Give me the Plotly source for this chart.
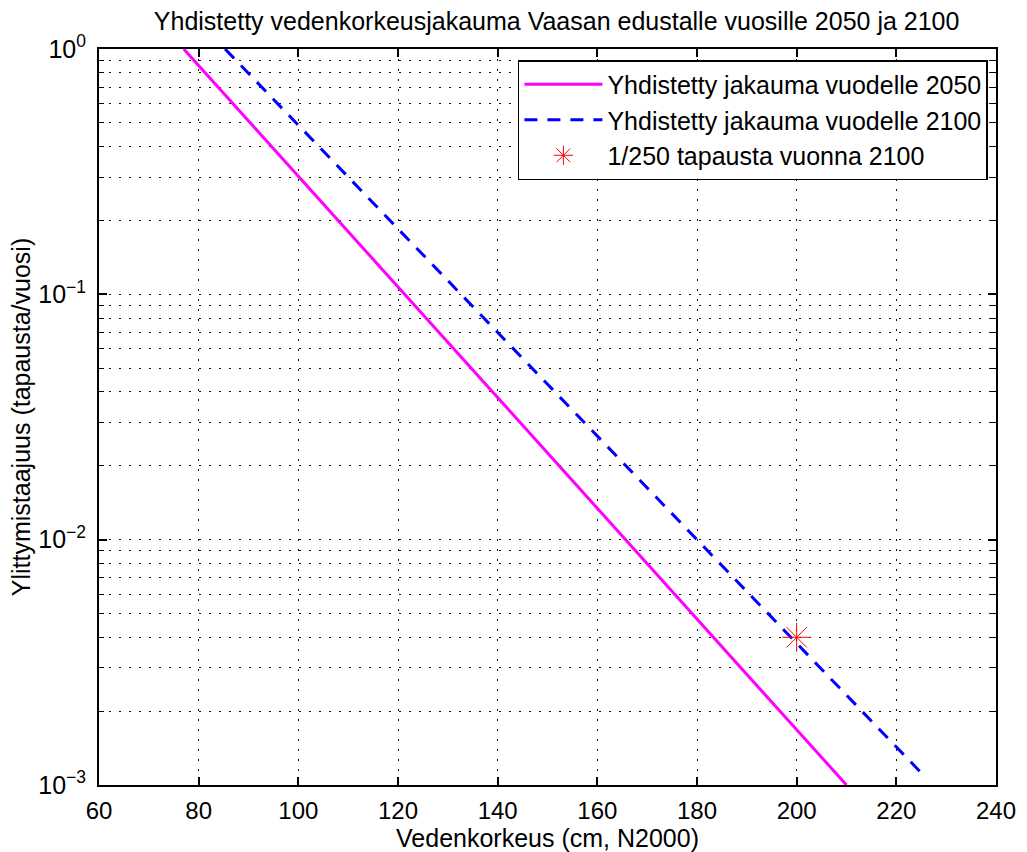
import plotly.graph_objects as go

# Data
x_2050 = [77.0, 121.3, 165.6, 210.0]
y_2050 = [1.0, 0.1, 0.01, 0.001]

x_2100 = [85.3, 132.7, 180.1, 225.2]
y_2100 = [1.0, 0.1, 0.01, 0.00111]

x_star = [200]
y_star = [0.004]

xticks = [60, 80, 100, 120, 140, 160, 180, 200, 220, 240]
yticks = [1e-3, 1e-2, 1e-1, 1e0]
yticktext = ["10<sup>−3</sup>", "10<sup>−2</sup>", "10<sup>−1</sup>", "10<sup>0</sup>"]
yminor = [m * 10.0 ** e for e in (-3, -2, -1) for m in range(2, 10)]

FONT = "Liberation Sans, Arial, sans-serif"
GRIDDASH = "1.5px,8.5px"
GRIDCOLOR = "#111111"

fig = go.Figure()
fig.add_trace(go.Scatter(x=x_2050, y=y_2050, mode="lines",
                         line=dict(color="#ff00ff", width=3),
                         name="Yhdistetty jakauma vuodelle 2050"))
fig.add_trace(go.Scatter(x=x_2100, y=y_2100, mode="lines",
                         line=dict(color="#0000ff", width=3, dash="13px,10px"),
                         name="Yhdistetty jakauma vuodelle 2100"))
fig.add_trace(go.Scatter(x=x_star, y=y_star, mode="markers",
                         marker=dict(symbol="asterisk-open", size=24,
                                     color="#ff0000", line=dict(color="#ff0000", width=1)),
                         name="1/250 tapausta vuonna 2100"))

fig.update_layout(
    width=1027, height=852,
    margin=dict(l=99, r=31, t=49, b=67),
    paper_bgcolor="white", plot_bgcolor="white",
    font=dict(family=FONT, size=24, color="black"),
    title=dict(text="Yhdistetty vedenkorkeusjakauma Vaasan edustalle vuosille 2050 ja 2100",
               x=0.542, xref="container", xanchor="center",
               y=1 - 21 / 852, yref="container", yanchor="middle",
               font=dict(family=FONT, size=25, color="black"), automargin=False),
    showlegend=True,
    legend=dict(x=0.467, y=0.985, xanchor="left", yanchor="top",
                bgcolor="white", bordercolor="black", borderwidth=1.5,
                font=dict(family=FONT, size=25, color="black"),
                itemwidth=78, tracegroupgap=0),
)

fig.update_xaxes(
    range=[60, 240], tickmode="array", tickvals=xticks, automargin=False,
    tickfont=dict(family=FONT, size=24, color="black"),
    ticks="inside", ticklen=8, tickwidth=1.5, tickcolor="black",
    ticklabelstandoff=3,
    showline=True, linecolor="black", linewidth=2, mirror="ticks",
    showgrid=True, gridcolor=GRIDCOLOR, gridwidth=1, griddash=GRIDDASH,
    zeroline=False,
    title=dict(text="Vedenkorkeus (cm, N2000)", standoff=2,
               font=dict(family=FONT, size=25, color="black")),
)

fig.update_yaxes(
    type="log", range=[-3, 0], tickmode="array", tickvals=yticks, ticktext=yticktext,
    automargin=False,
    tickfont=dict(family=FONT, size=25, color="black"),
    ticks="inside", ticklen=8, tickwidth=1.5, tickcolor="black",
    ticklabelstandoff=6,
    showline=True, linecolor="black", linewidth=2, mirror="ticks",
    showgrid=True, gridcolor=GRIDCOLOR, gridwidth=1, griddash=GRIDDASH,
    zeroline=False,
    minor=dict(tickmode="array", tickvals=yminor, ticks="inside", ticklen=5,
               tickcolor="black", tickwidth=1, showgrid=True,
               gridcolor=GRIDCOLOR, gridwidth=1, griddash=GRIDDASH),
    title=dict(text="Ylittymistaajuus (tapausta/vuosi)", standoff=0,
               font=dict(family=FONT, size=25, color="black")),
)

fig.write_html("out.html")
